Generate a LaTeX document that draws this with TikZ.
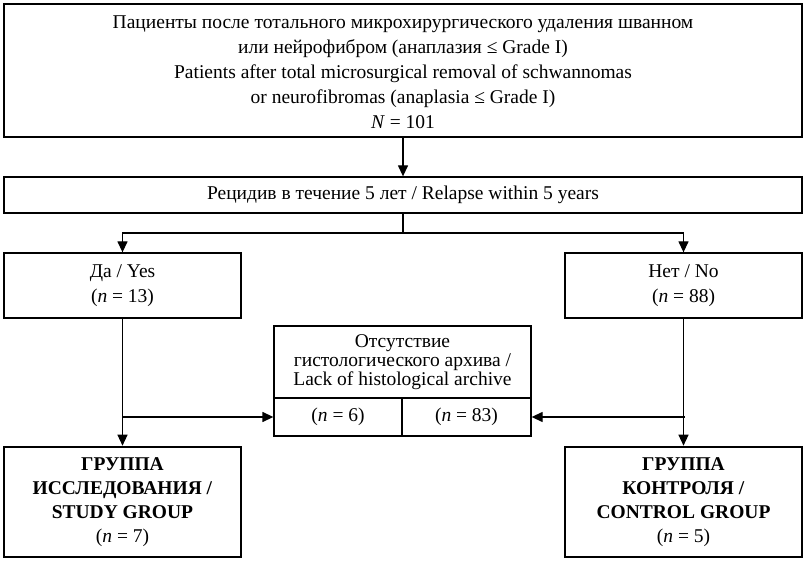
\documentclass[tikz,border=0pt]{standalone}
\usepackage{fontspec}
\setmainfont{Liberation Serif}
\usetikzlibrary{arrows.meta}
\begin{document}
\begin{tikzpicture}[x=1pt,y=-1pt,
  box/.style={draw,line width=1.3pt,rectangle,inner sep=0pt,align=center,font=\fontsize{19.5}{25}\selectfont},
  thickbox/.style={box,line width=2.6pt,font=\fontsize{19.5}{24}\selectfont},
  arr/.style={line width=1.3pt,-{Triangle[length=11pt,width=10pt]}},
  ln/.style={line width=1.3pt}]
\useasboundingbox (0,0) rectangle (806,561);
\node[box,minimum width=798pt,minimum height=133pt] (top) at (403,70.5)
 {\rule{0pt}{17pt}Пациенты после тотального микрохирургического удаления шванном\\
  или нейрофибром (анаплазия ≤ Grade I)\\
  Patients after total microsurgical removal of schwannomas\\
  or neurofibromas (anaplasia ≤ Grade I)\\
  \textit{N} = 101};
\node[box,minimum width=798pt,minimum height=36pt] (rel) at (403,195)
 {Рецидив в течение 5 лет / Relapse within 5 years};
\node[box,minimum width=237pt,minimum height=65pt] (yes) at (122.5,285.5)
 {Да / Yes\\(\textit{n} = 13)};
\node[box,minimum width=237pt,minimum height=65pt] (no) at (683.5,285.5)
 {Нет / No\\(\textit{n} = 88)};
\node[box,minimum width=257pt,minimum height=72pt,font=\fontsize{19.5}{19}\selectfont] (lack) at (402.5,362)
 {Отсутствие\\гистологического архива /\\Lack of histological archive};
\node[box,minimum width=128pt,minimum height=38pt] (c1) at (338,417) {(\textit{n} = 6)};
\node[box,minimum width=129pt,minimum height=38pt] (c2) at (466.5,417) {(\textit{n} = 83)};
\node[thickbox,minimum width=237pt,minimum height=110pt] (study) at (122.5,502)
 {\textbf{ГРУППА}\\\textbf{ИССЛЕДОВАНИЯ /}\\\textbf{STUDY GROUP}\\(\textit{n} = 7)};
\node[thickbox,minimum width=237pt,minimum height=110pt] (ctrl) at (683.5,502)
 {\textbf{ГРУППА}\\\textbf{КОНТРОЛЯ /}\\\textbf{CONTROL GROUP}\\(\textit{n} = 5)};
\coordinate (split) at (403,233);
\coordinate (bl) at (122,417);
\coordinate (br) at (685,417);
\draw[arr] (top.south) -- (rel.north);
\draw[ln] (rel.south) -- (split);
\draw[arr] (split) -| (yes.north);
\draw[arr] (split) -| (no.north);
\draw[arr] (yes.south) -- (study.north);
\draw[arr] (no.south) -- (ctrl.north);
\draw[arr] (bl) -- (c1.west);
\draw[arr] (br) -- (c2.east);
\end{tikzpicture}
\end{document}
